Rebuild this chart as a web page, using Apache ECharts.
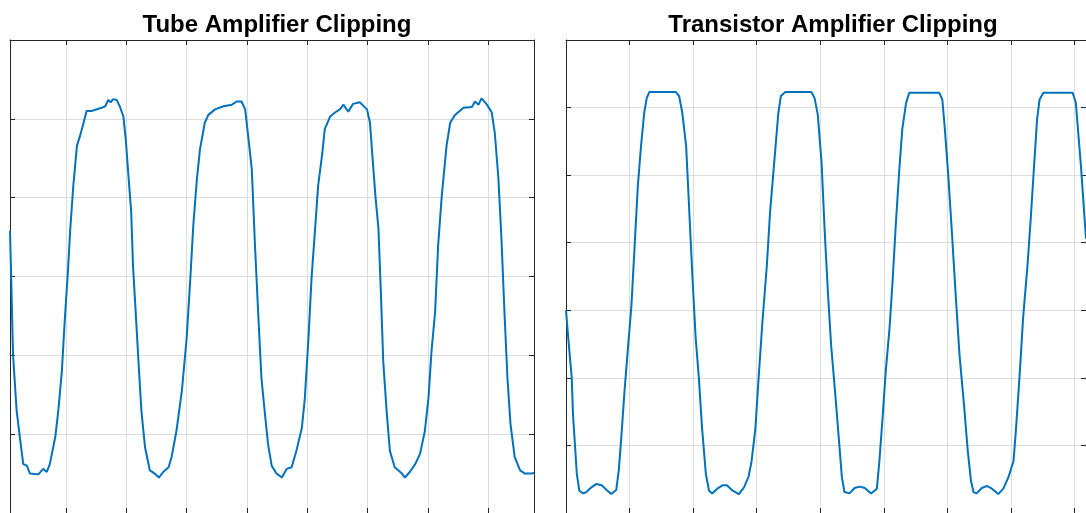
<!DOCTYPE html>
<html>
<head>
<meta charset="utf-8">
<script src="https://cdn.jsdelivr.net/npm/echarts@6/dist/echarts.min.js"></script>
<style>
  html, body { margin: 0; padding: 0; background: #ffffff; }
  #chart { width: 1086px; height: 513px; }
</style>
</head>
<body>
<div id="chart"></div>
<script>
// Panel titles
const titles = ['Tube Amplifier Clipping', 'Transistor Amplifier Clipping'];

// Tube amplifier output: time (ms) and level
const tubeTime = [
  0.07, 0.09, 0.12, 0.18, 0.24, 0.29, 0.35, 0.40, 0.54, 0.62, 0.68, 0.73, 0.82, 0.87, 0.93, 0.98,
  1.03, 1.07, 1.12, 1.18, 1.23, 1.29, 1.34, 1.42, 1.59, 1.65, 1.70, 1.74, 1.78, 1.84, 1.89, 1.95,
  1.99, 2.03, 2.08, 2.11, 2.16, 2.21, 2.25, 2.31, 2.39, 2.47, 2.54, 2.61, 2.70, 2.75, 2.83, 2.92,
  3.00, 3.06, 3.11, 3.17, 3.22, 3.30, 3.36, 3.47, 3.61, 3.75, 3.83, 3.91, 3.97, 4.02, 4.08, 4.13,
  4.19, 4.24, 4.30, 4.35, 4.41, 4.49, 4.58, 4.66, 4.74, 4.82, 4.91, 4.96, 5.02, 5.07, 5.13, 5.18,
  5.25, 5.29, 5.38, 5.46, 5.54, 5.60, 5.68, 5.76, 5.87, 5.99, 6.04, 6.08, 6.13, 6.18, 6.22, 6.26,
  6.32, 6.37, 6.45, 6.57, 6.62, 6.70, 6.79, 6.87, 6.95, 7.01, 7.06, 7.12, 7.17, 7.23, 7.31, 7.37,
  7.45, 7.59, 7.73, 7.78, 7.84, 7.89, 7.98, 8.06, 8.11, 8.17, 8.22, 8.27, 8.32, 8.37, 8.44, 8.53,
  8.61, 8.72, 8.76
];
const tubeLevel = [
  0.58, -0.03, -0.99, -1.70, -2.08, -2.38, -2.40, -2.50, -2.51, -2.44, -2.48, -2.38, -2.04, -1.71, -1.20, -0.53,
  0.06, 0.61, 1.15, 1.66, 1.78, 1.95, 2.10, 2.10, 2.14, 2.16, 2.24, 2.21, 2.25, 2.24, 2.16, 2.03,
  1.74, 1.32, 0.82, 0.14, -0.53, -1.20, -1.71, -2.17, -2.46, -2.50, -2.55, -2.48, -2.42, -2.29, -1.96, -1.45,
  -0.78, -0.03, 0.65, 1.24, 1.61, 1.95, 2.05, 2.12, 2.16, 2.18, 2.22, 2.22, 2.12, 1.78, 1.36, 0.44,
  -0.53, -1.29, -1.76, -2.13, -2.40, -2.50, -2.55, -2.44, -2.42, -2.21, -1.92, -1.54, -0.78, -0.03, 0.61, 1.15,
  1.57, 1.87, 2.03, 2.08, 2.12, 2.18, 2.09, 2.19, 2.21, 2.12, 1.95, 1.53, 1.02, 0.61, -0.19, -1.08,
  -1.75, -2.21, -2.42, -2.50, -2.55, -2.48, -2.38, -2.25, -1.96, -1.54, -0.95, -0.45, 0.39, 1.02, 1.66, 1.95,
  2.05, 2.14, 2.15, 2.22, 2.18, 2.26, 2.18, 2.08, 1.82, 1.24, 0.48, -0.45, -1.29, -1.87, -2.29, -2.46,
  -2.50, -2.50, -2.49
];

// Transistor amplifier output: time (ms) and level
const transistorTime = [
  0.00, 0.04, 0.09, 0.11, 0.14, 0.17, 0.21, 0.27, 0.32, 0.40, 0.48, 0.56, 0.64, 0.71, 0.79, 0.83,
  0.87, 0.92, 0.97, 1.03, 1.08, 1.13, 1.18, 1.23, 1.27, 1.31, 1.73, 1.78, 1.83, 1.89, 1.94, 1.99,
  2.04, 2.09, 2.14, 2.20, 2.25, 2.30, 2.38, 2.46, 2.53, 2.61, 2.72, 2.80, 2.87, 2.92, 2.98, 3.03,
  3.09, 3.16, 3.21, 3.28, 3.34, 3.38, 3.45, 3.86, 3.91, 3.96, 4.02, 4.07, 4.12, 4.17, 4.24, 4.29,
  4.34, 4.38, 4.46, 4.54, 4.62, 4.70, 4.80, 4.89, 4.93, 4.98, 5.03, 5.09, 5.14, 5.19, 5.24, 5.29,
  5.35, 5.40, 5.87, 5.92, 5.96, 6.01, 6.07, 6.13, 6.19, 6.26, 6.32, 6.37, 6.41, 6.46, 6.54, 6.62,
  6.70, 6.80, 6.88, 6.96, 7.04, 7.08, 7.14, 7.19, 7.26, 7.31, 7.36, 7.41, 7.45, 7.51, 7.97, 8.02,
  8.05, 8.10, 8.18
];
const transistorLevel = [
  -1.00, -1.46, -2.00, -2.54, -2.98, -3.42, -3.67, -3.71, -3.69, -3.62, -3.57, -3.59, -3.66, -3.72, -3.66, -3.37,
  -2.88, -2.20, -1.61, -0.92, -0.04, 0.84, 1.43, 1.92, 2.14, 2.23, 2.23, 2.17, 1.92, 1.43, 0.45, -0.53,
  -1.41, -2.00, -2.74, -3.42, -3.67, -3.71, -3.64, -3.59, -3.59, -3.66, -3.72, -3.62, -3.47, -3.23, -2.74, -2.00,
  -1.17, -0.33, 0.45, 1.24, 1.92, 2.17, 2.23, 2.23, 2.14, 1.90, 1.19, 0.16, -0.73, -1.51, -2.29, -2.88,
  -3.47, -3.69, -3.71, -3.63, -3.61, -3.63, -3.71, -3.64, -3.23, -2.59, -1.90, -1.26, -0.53, 0.30, 1.04, 1.68,
  2.07, 2.22, 2.22, 2.12, 1.68, 1.04, 0.16, -0.77, -1.66, -2.39, -3.08, -3.52, -3.69, -3.71, -3.63, -3.60,
  -3.64, -3.72, -3.64, -3.47, -3.23, -2.74, -1.90, -1.12, -0.33, 0.35, 1.09, 1.82, 2.12, 2.22, 2.22, 2.07,
  1.72, 1.14, 0.06
];

// Axis ranges and grid-line positions for each panel
const tubeXRange = [0.07, 8.76];
const tubeXTicks = [1, 2, 3, 4, 5, 6, 7, 8];
const tubeYRange = [-3, 3];
const transistorXRange = [0, 8.18];
const transistorXTicks = [0, 1, 2, 3, 4, 5, 6, 7, 8];
const transistorYRange = [-4, 3];

const pairs = (xs, ys) => xs.map((x, i) => [x, ys[i]]);

const FONT = '"Liberation Sans", Arial, Helvetica, sans-serif';
const BOX = '#262626';
const GRIDLINE = '#dcdcdc';
const LINE = '#0072BD';

function xAxisPair(gridIndex, range, ticks) {
  const common = {
    type: 'value',
    gridIndex,
    min: range[0],
    max: range[1],
    axisLabel: { show: false, customValues: ticks },
    axisLine: { show: true, onZero: false, lineStyle: { color: BOX, width: 1 } },
    axisTick: { show: true, inside: true, length: 5, customValues: ticks, lineStyle: { color: BOX, width: 1 } },
    minorTick: { show: false }
  };
  return [
    Object.assign({}, common, { position: 'bottom', splitLine: { show: true, lineStyle: { color: GRIDLINE, width: 1 } } }),
    Object.assign({}, common, { position: 'top', splitLine: { show: false } })
  ];
}

function yAxisPair(gridIndex, range) {
  const common = {
    type: 'value',
    gridIndex,
    min: range[0],
    max: range[1],
    interval: 1,
    axisLabel: { show: false },
    axisLine: { show: true, onZero: false, lineStyle: { color: BOX, width: 1 } },
    axisTick: { show: true, inside: true, length: 5, lineStyle: { color: BOX, width: 1 } }
  };
  return [
    Object.assign({}, common, { position: 'left', splitLine: { show: true, lineStyle: { color: GRIDLINE, width: 1 } } }),
    Object.assign({}, common, { position: 'right', splitLine: { show: false } })
  ];
}

const chart = echarts.init(document.getElementById('chart'), null, { renderer: 'canvas' });

chart.setOption({
  backgroundColor: '#ffffff',
  animation: false,
  title: [
    { text: titles[0], left: 272, top: 8, textAlign: 'center',
      textStyle: { fontFamily: FONT, fontSize: 24, fontWeight: 'bold', color: '#000000' } },
    { text: titles[1], left: 828, top: 8, textAlign: 'center',
      textStyle: { fontFamily: FONT, fontSize: 24, fontWeight: 'bold', color: '#000000' } }
  ],
  grid: [
    { left: 10, top: 40, width: 524, height: 476, containLabel: false },
    { left: 566, top: 40, width: 524, height: 476, containLabel: false }
  ],
  xAxis: [
    ...xAxisPair(0, tubeXRange, tubeXTicks),
    ...xAxisPair(1, transistorXRange, transistorXTicks)
  ],
  yAxis: [
    ...yAxisPair(0, tubeYRange),
    ...yAxisPair(1, transistorYRange)
  ],
  series: [
    {
      name: titles[0],
      type: 'line',
      xAxisIndex: 0,
      yAxisIndex: 0,
      data: pairs(tubeTime, tubeLevel),
      showSymbol: false,
      clip: true,
      lineStyle: { color: LINE, width: 2 }
    },
    {
      name: titles[1],
      type: 'line',
      xAxisIndex: 2,
      yAxisIndex: 2,
      data: pairs(transistorTime, transistorLevel),
      showSymbol: false,
      clip: true,
      lineStyle: { color: LINE, width: 2 }
    }
  ]
});
</script>
</body>
</html>
